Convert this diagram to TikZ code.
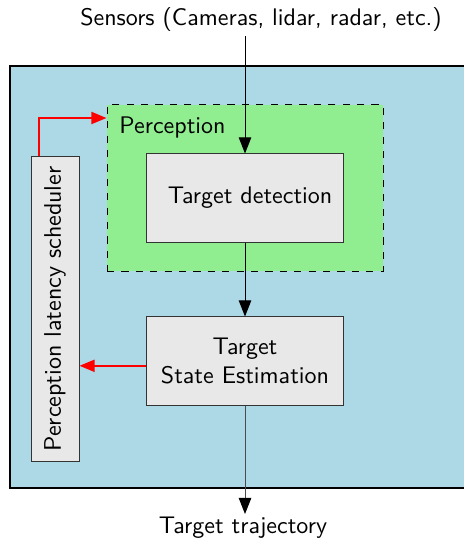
\documentclass[tikz,border=0pt]{standalone}
\usetikzlibrary{arrows.meta}
\definecolor{bgblue}{RGB}{173,216,230}
\definecolor{bggreen}{RGB}{144,238,144}
\definecolor{boxgray}{RGB}{232,232,232}
\begin{document}
\begin{tikzpicture}[x=0.4167pt,y=-0.4167pt,font=\sffamily,
  tip/.style={-{Triangle[length=6.7pt,width=5.2pt,black]}},
  redtip/.style={-{Triangle[length=6.3pt,width=5pt]},red,line width=0.8pt},
  blockbox/.style={draw=black!80,fill=boxgray,line width=0.4pt,minimum width=81.7pt,minimum height=36.7pt,inner sep=0pt}]
\useasboundingbox (0,0) rectangle (463,541);
\fill[white] (0,0) rectangle (463,541);
\draw[fill=bgblue,line width=0.8pt] (10,66) rectangle (480,488);
\node[draw,dashed,fill=bggreen,line width=0.4pt,minimum width=115pt,minimum height=69.2pt,inner sep=0pt] (perc) at (245,188) {};
\node[anchor=west,inner sep=0pt] (perclabel) at (119,128) {Perception};
\node[blockbox] (det) at (245,198) {\hspace*{4.2pt}Target detection};
\node[blockbox,align=center] (tse) at (245,361) {Target\\State Estimation};
\node[blockbox,rotate=90,minimum width=126.7pt,minimum height=20pt] (sched) at (55,309) {Perception latency scheduler};
\node[inner sep=0pt] (sensors) at (261,20) {Sensors (Cameras, lidar, radar, etc.)};
\node[inner sep=0pt] (traj) at (243,528) {Target trajectory};
\coordinate (sensend) at (245,36);
\coordinate (trajend) at (245,514);
\draw[tip,line width=0.4pt] (sensend) -- (det.north);
\draw[tip,line width=0.4pt] (det.south) -- (tse.north);
\draw[tip,line width=0.4pt,draw=black!70] (tse.south) -- (trajend);
\coordinate (redfrom) at ([yshift=-2pt]tse.west);
\draw[redtip] (redfrom) -- (redfrom -| sched.south);
\coordinate (sstart) at ([xshift=-6.7pt]sched.east);
\draw[redtip] (sstart) |- (perc.west |- 0,118);
\end{tikzpicture}
\end{document}
